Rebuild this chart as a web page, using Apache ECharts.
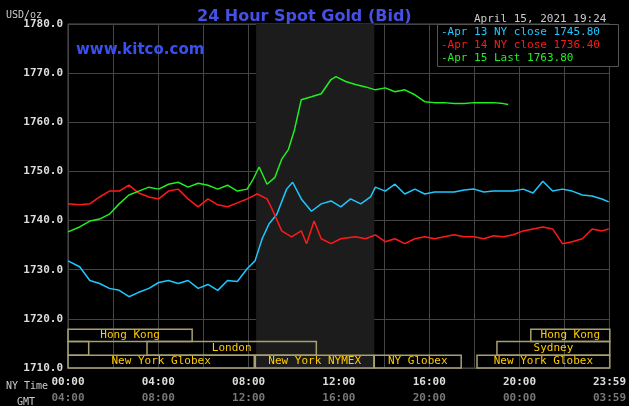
<!DOCTYPE html>
<html>
<head>
<meta charset="utf-8">
<script src="https://cdn.jsdelivr.net/npm/echarts@6/dist/echarts.min.js"></script>
<style>
  html, body { margin: 0; padding: 0; background: #000; }
  #chart { width: 629px; height: 406px; }
</style>
</head>
<body>
<div id="chart"></div>
<script>
// minutes since NY midnight -> price
var apr13Times = [0,31,58,84,110,136,162,188,215,241,267,293,319,346,372,398,424,450,476,497,516,534,555,581,597,620,647,673,699,725,751,778,804,817,843,869,895,922,948,974,1000,1026,1053,1079,1105,1131,1157,1183,1210,1236,1262,1288,1314,1340,1367,1393,1419,1437];
var apr13Values = [1731.8,1730.6,1727.8,1727.2,1726.2,1725.8,1724.5,1725.4,1726.2,1727.4,1727.8,1727.2,1727.8,1726.2,1727.0,1725.8,1727.8,1727.6,1730.2,1731.8,1736.3,1739.3,1741.3,1746.4,1747.8,1744.4,1741.9,1743.4,1744.0,1742.8,1744.4,1743.4,1744.8,1746.8,1746.0,1747.4,1745.4,1746.4,1745.4,1745.8,1745.8,1745.8,1746.2,1746.4,1745.8,1746.0,1746.0,1746.0,1746.4,1745.6,1748.0,1746.0,1746.4,1746.0,1745.2,1745.0,1744.4,1743.8];
var apr14Times = [0,31,58,84,110,136,162,188,215,241,267,293,319,346,372,398,424,450,476,503,529,542,568,594,620,634,654,673,699,725,764,791,817,843,869,895,922,948,974,1000,1026,1053,1079,1105,1131,1157,1183,1210,1236,1262,1288,1314,1340,1367,1393,1419,1437];
var apr14Values = [1743.4,1743.2,1743.4,1744.8,1746.0,1746.0,1747.2,1745.6,1744.8,1744.4,1746.0,1746.4,1744.4,1742.8,1744.4,1743.2,1742.8,1743.6,1744.4,1745.4,1744.4,1742.4,1737.9,1736.7,1737.9,1735.3,1739.9,1736.3,1735.3,1736.3,1736.7,1736.3,1737.1,1735.7,1736.3,1735.3,1736.3,1736.7,1736.3,1736.7,1737.1,1736.7,1736.7,1736.3,1736.9,1736.7,1737.1,1737.9,1738.3,1738.7,1738.3,1735.3,1735.7,1736.3,1738.3,1737.9,1738.3];
var apr15Times = [0,31,58,84,110,136,162,188,215,241,267,293,319,346,372,398,424,450,476,492,508,529,550,568,586,602,620,647,673,699,712,738,764,791,817,843,869,895,922,948,974,1000,1026,1053,1079,1105,1131,1157,1170];
var apr15Values = [1737.7,1738.7,1739.9,1740.3,1741.3,1743.4,1745.2,1746.0,1746.8,1746.4,1747.4,1747.8,1746.8,1747.6,1747.2,1746.4,1747.2,1746.0,1746.4,1748.4,1750.9,1747.4,1748.8,1752.5,1754.5,1758.5,1764.6,1765.2,1765.8,1768.7,1769.3,1768.3,1767.7,1767.2,1766.6,1767.0,1766.2,1766.6,1765.6,1764.2,1764.0,1764.0,1763.8,1763.8,1764.0,1764.0,1764.0,1763.8,1763.6];

// trading sessions: [start minute, end minute, row, label]
var sessionStart = [0, 1230, 0, 210, 1140, 0, 498, 814, 1087];
var sessionEnd = [330, 1440, 55, 660, 1440, 495, 813, 1045, 1440];
var sessionRow = [0, 0, 1, 1, 1, 2, 2, 2, 2];
var sessionName = ['Hong Kong', 'Hong Kong', '', 'London', 'Sydney', 'New York Globex', 'New York NYMEX', 'NY Globex', 'New York Globex'];
var rowTop = [1717.9, 1715.4, 1712.6];
var rowBottom = [1715.4, 1712.6, 1710.0];

var mono = 'DejaVu Sans Mono';

function hhmm(m) {
    m = ((m % 1440) + 1440) % 1440;
    var h = Math.floor(m / 60), mm = m % 60;
    return (h < 10 ? '0' : '') + h + ':' + (mm < 10 ? '0' : '') + mm;
}
function pairs(t, v) {
    var out = [];
    for (var i = 0; i < t.length; i++) out.push([t[i], v[i]]);
    return out;
}

var sessionData = [];
for (var i = 0; i < sessionStart.length; i++) {
    sessionData.push([sessionStart[i], sessionEnd[i], sessionRow[i], sessionName[i]]);
}

var chart = echarts.init(document.getElementById('chart'));
var option = {
    backgroundColor: '#000',
    animation: false,
    textStyle: { fontFamily: mono },
    title: [
        { text: '24 Hour Spot Gold (Bid)', left: 192, top: 4, textStyle: { color: '#4450e8', fontSize: 16, fontWeight: 'bold', fontFamily: 'DejaVu Sans' } },
        { text: 'www.kitco.com', left: 71, top: 38, textStyle: { color: '#3a4ff0', fontSize: 15, fontWeight: 'bold', fontFamily: 'DejaVu Sans' } },
        { text: 'USD/oz', left: 1, top: 5, textStyle: { color: '#ccc', fontSize: 10, fontWeight: 'normal', fontFamily: mono } },
        { text: 'April 15, 2021 19:24', left: 469, top: 9, textStyle: { color: '#ccc', fontSize: 11, fontWeight: 'normal', fontFamily: mono } },
        { text: 'NY Time', left: 1, top: 376, textStyle: { color: '#ccc', fontSize: 10, fontWeight: 'normal', fontFamily: mono } },
        { text: 'GMT', left: 12, top: 392, textStyle: { color: '#ccc', fontSize: 10, fontWeight: 'normal', fontFamily: mono } }
    ],
    graphic: [
        { type: 'rect', left: 437, top: 24, shape: { width: 181, height: 42 }, style: { fill: '#000', stroke: '#555', lineWidth: 1 }, z: 10 },
        { type: 'text', left: 441, top: 27, z: 11, style: { text: '-Apr 13 NY close 1745.80', fill: '#1ec8ff', font: '11px ' + mono } },
        { type: 'text', left: 441, top: 40, z: 11, style: { text: '-Apr 14 NY close 1736.40', fill: '#ff1a1a', font: '11px ' + mono } },
        { type: 'text', left: 441, top: 53, z: 11, style: { text: '-Apr 15 Last 1763.80', fill: '#22ee22', font: '11px ' + mono } }
    ],
    grid: { left: 68, right: 11, top: 24, bottom: 36, show: true, borderColor: '#555', borderWidth: 1 },
    xAxis: [{
        type: 'value', min: 0, max: 1439, interval: 120,
        axisLine: { show: false }, axisTick: { show: false },
        splitLine: { lineStyle: { color: '#444', width: 1 } },
        axisLabel: { show: false }
    }, {
        type: 'value', min: 0, max: 1439, interval: 240, position: 'bottom',
        axisLine: { show: false }, axisTick: { show: false }, splitLine: { show: false },
        axisLabel: {
            showMaxLabel: true, margin: 6, lineHeight: 16,
            formatter: function (v) {
                return '{a|' + hhmm(v) + '}\n{b|' + hhmm(v + 240) + '}';
            },
            rich: {
                a: { color: '#ddd', fontSize: 11, fontWeight: 'bold', fontFamily: mono },
                b: { color: '#777', fontSize: 11, fontWeight: 'bold', fontFamily: mono }
            }
        }
    }],
    yAxis: {
        type: 'value', min: 1710, max: 1780, interval: 10,
        axisLine: { show: false }, axisTick: { show: false },
        splitLine: { lineStyle: { color: '#444', width: 1 } },
        axisLabel: { color: '#ddd', fontSize: 11, fontWeight: 'bold', fontFamily: mono, margin: 5,
            formatter: function (v) { return v.toFixed(1); } }
    },
    series: [{
        type: 'line', data: pairs(apr13Times, apr13Values), showSymbol: false,
        lineStyle: { color: '#1ec8ff', width: 1.5 }, z: 3,
        markArea: { silent: true, itemStyle: { color: '#1c1c1c' }, data: [[{ xAxis: 500 }, { xAxis: 814 }]] }
    }, {
        type: 'line', data: pairs(apr14Times, apr14Values), showSymbol: false,
        lineStyle: { color: '#ff1a1a', width: 1.5 }, z: 4
    }, {
        type: 'line', data: pairs(apr15Times, apr15Values), showSymbol: false,
        lineStyle: { color: '#22ee22', width: 1.5 }, z: 5
    }, {
        type: 'custom', data: sessionData, z: 6,
        renderItem: function (params, api) {
            var row = api.value(2);
            var p0 = api.coord([api.value(0), rowTop[row]]);
            var p1 = api.coord([api.value(1), rowBottom[row]]);
            var name = sessionName[params.dataIndex];
            return {
                type: 'group',
                children: [{
                    type: 'rect',
                    shape: { x: p0[0], y: p0[1], width: p1[0] - p0[0], height: p1[1] - p0[1] },
                    style: { fill: 'rgba(0,0,0,0)', stroke: '#a8a070', lineWidth: 1.5 }
                }, {
                    type: 'text',
                    style: { text: name, x: (p0[0] + p1[0]) / 2, y: (p0[1] + p1[1]) / 2,
                        align: 'center', verticalAlign: 'middle', fill: '#ffcc00', font: '11px ' + mono }
                }]
            };
        }
    }]
};
chart.setOption(option);
</script>
</body>
</html>
